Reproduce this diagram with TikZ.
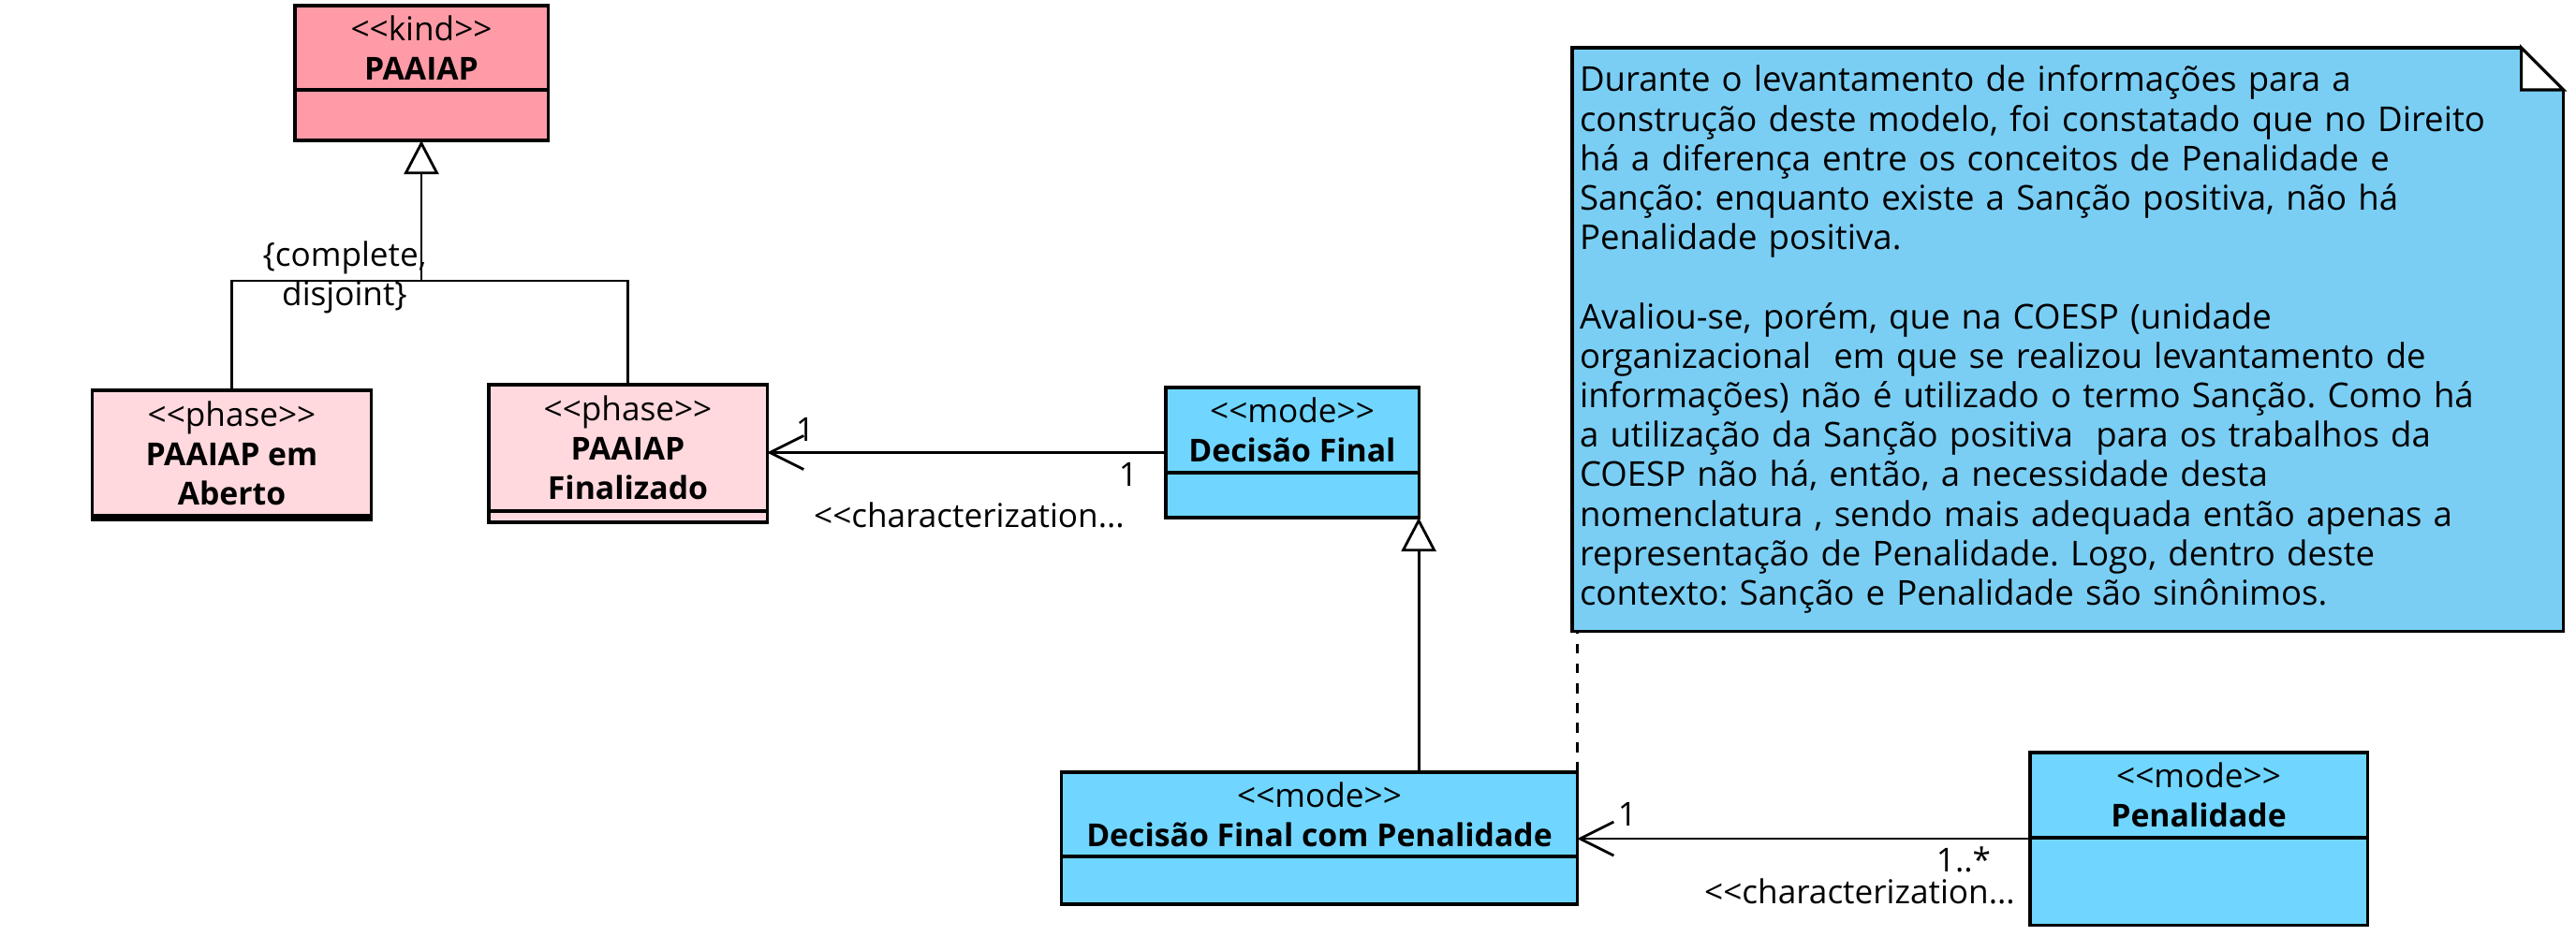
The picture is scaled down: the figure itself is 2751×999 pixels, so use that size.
\documentclass[tikz,border=0pt]{standalone}
\usepackage{fontspec}
\setmainfont{Open Sans}[Ligatures=TeXOff, BoldFeatures={Scale=0.96}]
\usepackage{tikz}
\usetikzlibrary{arrows.meta,positioning,calc}
\frenchspacing

\definecolor{kindred}{HTML}{FF9BA6}
\definecolor{phasepink}{HTML}{FFD9DE}
\definecolor{modeblue}{HTML}{70D6FF}
\definecolor{noteblue}{HTML}{7ACEF4}

\begin{document}
\begin{tikzpicture}[
  x=0.01cm, y=-0.01cm,
  font=\fontsize{10}{12}\selectfont,
  every node/.style={inner sep=0pt, outer sep=0pt},
  head/.style={draw, line width=0.9pt, align=center},
  body/.style={draw, line width=0.9pt, below=0pt of #1},
  gen/.style={line width=0.8pt, -{Triangle[length=0.36cm, width=0.37cm, fill=white]}},
  assoc/.style={line width=0.8pt, -{Straight Barb[length=0.36cm, width=0.36cm]}}
]
\useasboundingbox (0,0) rectangle (2751,999);

% classes
\node [head, fill=kindred, minimum width=2.7cm, minimum height=0.9cm] (kind) at (450,51) {<<kind>>\\\textbf{PAAIAP}};
\node [body=kind, fill=kindred, minimum width=2.7cm, minimum height=0.54cm] (kindb) {};
\node [head, fill=phasepink, minimum width=2.97cm, minimum height=1.34cm] (aberto) at (247.5,484) {<<phase>>\\\textbf{PAAIAP em}\\\textbf{Aberto}};
\node [body=aberto, fill=phasepink, minimum width=2.97cm, minimum height=0.04cm] (abertob) {};
\node [head, fill=phasepink, minimum width=2.97cm, minimum height=1.35cm] (final) at (670.5,478.5) {<<phase>>\\\textbf{PAAIAP}\\\textbf{Finalizado}};
\node [body=final, fill=phasepink, minimum width=2.97cm, minimum height=0.12cm] (finalb) {};
\node [head, fill=modeblue, minimum width=2.7cm, minimum height=0.91cm] (dfin) at (1380,459.5) {<<mode>>\\\textbf{Decisão Final}};
\node [body=dfin, fill=modeblue, minimum width=2.7cm, minimum height=0.48cm] (dfinb) {};
\node [head, fill=modeblue, minimum width=5.5cm, minimum height=0.9cm] (dfcp) at (1409,870) {<<mode>>\\\textbf{Decisão Final com Penalidade}};
\node [body=dfcp, fill=modeblue, minimum width=5.5cm, minimum height=0.51cm] (dfcpb) {};
\node [head, fill=modeblue, minimum width=3.6cm, minimum height=0.91cm] (pen) at (2348,849.5) {<<mode>>\\\textbf{Penalidade}};
\node [body=pen, fill=modeblue, minimum width=3.6cm, minimum height=0.93cm] (penb) {};

% generalization set of the phases
\coordinate (gs) at (450,300);
\draw [line width=0.8pt] (aberto.north) |- (gs) -| (final.north);
\draw [gen] (gs) -- (kindb.south);
\node [align=center] (gsl) at (368,296) {\{complete,\\disjoint\}};

% characterizations
\coordinate (dfinm) at ($(dfin.north west)!.5!(dfinb.south west)$);
\draw [assoc] (dfinm) -- (dfinm -| final.east);
\node (m1a) at (860,459) {1};
\node (m1b) at (1205,507) {1};
\node (c1) at (1035,550) {<<characterization...};

\draw [gen] (dfcp.north -| dfinb.south east) -- (dfinb.south east);

\coordinate (penm) at ($(pen.north west)!.5!(penb.south west)$);
\draw [assoc] (penm) -- (penm -| dfcpb.east);
\node (m2a) at (1738,870) {1};
\node (m2b) at (2097,918) {1..*};
\node (c2) at (1986,952) {<<characterization...};

% note
\node [draw, line width=0.9pt, fill=noteblue, inner xsep=0.08cm, text width=10.42cm, minimum height=6.23cm, align=left, anchor=north west, font=\fontsize{10.4}{12}\selectfont] (note) at (1679,51) {Durante o levantamento de informações para a\\
construção deste modelo, foi constatado que no Direito\\
há a diferença entre os conceitos de Penalidade e\\
Sanção: enquanto existe a Sanção positiva, não há\\
Penalidade positiva.\\[12pt]
Avaliou-se, porém, que na COESP (unidade\\
organizacional\ \ em que se realizou levantamento de\\
informações) não é utilizado o termo Sanção. Como há\\
a utilização da Sanção positiva\ \ para os trabalhos da\\
COESP não há, então, a necessidade desta\\
nomenclatura , sendo mais adequada então apenas a\\
representação de Penalidade. Logo, dentro deste\\
contexto: Sanção e Penalidade são sinônimos.};
\fill [white] ([xshift=-0.45cm, yshift=1pt]note.north east) rectangle ([xshift=1pt, yshift=-0.45cm]note.north east);
\draw [line width=0.9pt] ([xshift=-0.45cm]note.north east) -- ([yshift=-0.45cm]note.north east) -- ([xshift=-0.45cm, yshift=-0.45cm]note.north east) -- cycle;
\draw [dashed, line width=0.8pt] (dfcp.north east) -- (dfcp.north east |- note.south);
\end{tikzpicture}
\end{document}
